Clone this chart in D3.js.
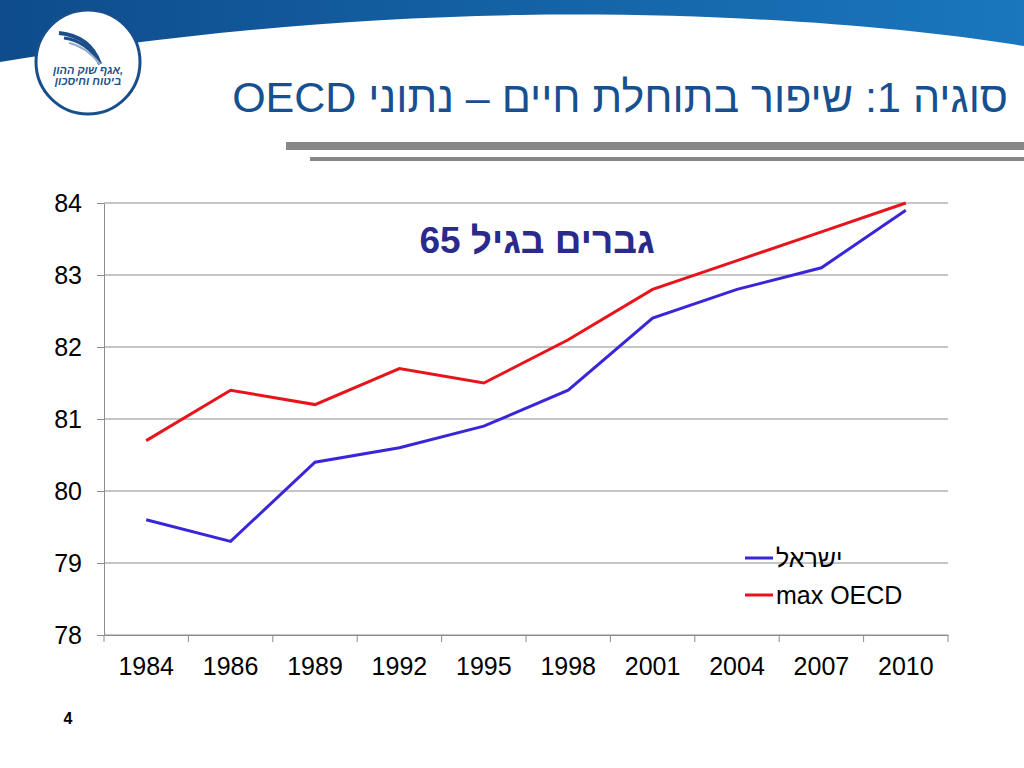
<!DOCTYPE html>
<html>
<head>
<meta charset="utf-8">
<script src="https://cdn.jsdelivr.net/npm/d3@7"></script>
<style>
  body { margin: 0; background: #fff; }
  svg { display: block; font-family: "Liberation Sans", Arial, sans-serif; }
</style>
</head>
<body>
<div id="chart"></div>
<script>
const years = ['1984', '1986', '1989', '1992', '1995', '1998', '2001', '2004', '2007', '2010'];
const israel = [79.6, 79.3, 80.4, 80.6, 80.9, 81.4, 82.4, 82.8, 83.1, 83.9];
const maxOecd = [80.7, 81.4, 81.2, 81.7, 81.5, 82.1, 82.8, 83.2, 83.6, 84.0];
const yTicks = [78, 79, 80, 81, 82, 83, 84];
const seriesNames = ['ישראל', 'max OECD'];

const width = 1024, height = 768;
const margin = { top: 203, right: 76, bottom: 133, left: 104 };
const innerWidth = width - margin.left - margin.right;
const innerHeight = height - margin.top - margin.bottom;

const svg = d3.select('#chart')
    .append('svg')
    .attr('width', width)
    .attr('height', height)
    .attr('viewBox', `0 0 ${width} ${height}`);

// header band
const defs = svg.append('defs');
const grad = defs.append('linearGradient').attr('id', 'hdr').attr('x1', 0).attr('x2', 1);
grad.append('stop').attr('offset', 0).attr('stop-color', '#0e4c8c');
grad.append('stop').attr('offset', 1).attr('stop-color', '#1a77bd');

svg.append('path')
    .attr('d', 'M0,0 H1024 V46 C900,26 720,12 520,15 C330,18 150,38 0,62 Z')
    .attr('fill', 'url(#hdr)');

// logo
const logo = svg.append('g').attr('transform', 'translate(88,62)');
logo.append('circle').attr('r', 52).attr('fill', '#fff')
    .attr('stroke', '#174f8c').attr('stroke-width', 3);
[[-29, 0], [-24, 5], [-19, 10]].forEach(([dy, k], i) => {
    logo.append('path')
        .attr('d', `M${-29 + k},${dy} Q${2 - k / 2},${dy + 3} ${12},${2}`)
        .attr('fill', 'none')
        .attr('stroke', i === 2 ? '#9aaccb' : '#1c4f8a')
        .attr('stroke-width', 4 - i);
});
logo.append('text').attr('x', 0).attr('y', 12).attr('text-anchor', 'middle')
    .attr('font-size', 11).attr('font-style', 'italic').attr('font-weight', 'bold')
    .attr('fill', '#174f8c')
    .text('אגף שוק ההון,');
logo.append('text').attr('x', 0).attr('y', 23).attr('text-anchor', 'middle')
    .attr('font-size', 11).attr('font-style', 'italic').attr('font-weight', 'bold')
    .attr('fill', '#174f8c')
    .text('ביטוח וחיסכון');

// slide title
svg.append('text')
    .attr('x', 1008)
    .attr('y', 112)
    .attr('direction', 'rtl')
    .attr('text-anchor', 'start')
    .attr('font-size', 43)
    .attr('fill', '#17508f')
    .text('סוגיה 1: שיפור בתוחלת חיים – נתוני OECD');

// grey rules
svg.append('rect').attr('x', 286).attr('y', 142).attr('width', 738).attr('height', 8).attr('fill', '#878787');
svg.append('rect').attr('x', 310).attr('y', 157).attr('width', 714).attr('height', 4).attr('fill', '#878787');

const inner = svg.append('g')
    .attr('transform', `translate(${margin.left},${margin.top})`);

const xBand = d3.scaleBand().domain(years).range([0, innerWidth]);
const xScale = d => xBand(d) + xBand.bandwidth() / 2;
const yScale = d3.scaleLinear().domain([78, 84]).range([innerHeight, 0]);

// grid lines
inner.append('g')
    .selectAll('line')
    .data(yTicks)
    .join('line')
    .attr('x1', 0)
    .attr('x2', innerWidth)
    .attr('y1', d => yScale(d))
    .attr('y2', d => yScale(d))
    .attr('stroke', '#8c8c8c')
    .attr('stroke-width', 1);

// y axis
const leftAxis = d3.axisLeft(yScale)
    .tickValues(yTicks)
    .tickFormat(d3.format('d'))
    .tickSizeInner(7)
    .tickSizeOuter(0)
    .tickPadding(15);

const yAxisG = inner.append('g').call(leftAxis);
yAxisG.selectAll('path, line').attr('stroke', '#8c8c8c');
yAxisG.selectAll('text')
    .attr('font-family', 'Liberation Sans, Arial, sans-serif')
    .attr('font-size', 25)
    .attr('fill', '#000');

// x axis: labels at band centres, ticks at category boundaries
const bottomAxis = d3.axisBottom(xBand)
    .tickSize(0)
    .tickPadding(22);

const xAxisG = inner.append('g')
    .attr('transform', `translate(0, ${innerHeight})`)
    .call(bottomAxis);
xAxisG.select('.domain').attr('stroke', '#8c8c8c');
xAxisG.selectAll('text')
    .attr('font-family', 'Liberation Sans, Arial, sans-serif')
    .attr('font-size', 25)
    .attr('fill', '#000');

const boundaries = years.map(d => xBand(d)).concat([innerWidth]);
xAxisG.append('g')
    .selectAll('line')
    .data(boundaries)
    .join('line')
    .attr('x1', d => d).attr('x2', d => d)
    .attr('y1', 0).attr('y2', 7)
    .attr('stroke', '#8c8c8c');

// lines
const line = d3.line()
    .x((d, i) => xScale(years[i]))
    .y(d => yScale(d));

const series = [
    { name: seriesNames[0], values: israel, color: '#3a26d9' },
    { name: seriesNames[1], values: maxOecd, color: '#e8141c' }
];

inner.selectAll('.series')
    .data(series)
    .join('path')
    .attr('class', 'series')
    .attr('d', d => line(d.values))
    .attr('fill', 'none')
    .attr('stroke', d => d.color)
    .attr('stroke-width', 3);

// chart title
inner.append('text')
    .attr('x', 433)
    .attr('y', 50)
    .attr('direction', 'rtl')
    .attr('text-anchor', 'middle')
    .attr('font-size', 37)
    .attr('font-weight', 'bold')
    .attr('fill', '#2a2a8c')
    .text('גברים בגיל 65');

// legend
const legend = svg.append('g').attr('transform', 'translate(745,558)');
legend.selectAll('line')
    .data(series)
    .join('line')
    .attr('x1', 0).attr('x2', 28)
    .attr('y1', (d, i) => i * 37).attr('y2', (d, i) => i * 37)
    .attr('stroke', d => d.color)
    .attr('stroke-width', 3);
legend.selectAll('text')
    .data(series)
    .join('text')
    .attr('x', 31)
    .attr('y', (d, i) => i * 37 + 9)
    .attr('font-size', 25)
    .attr('fill', '#000')
    .text(d => d.name);

// page number
svg.append('text')
    .attr('x', 68).attr('y', 724)
    .attr('text-anchor', 'middle')
    .attr('font-size', 16)
    .attr('font-weight', 'bold')
    .text('4');
</script>
</body>
</html>
